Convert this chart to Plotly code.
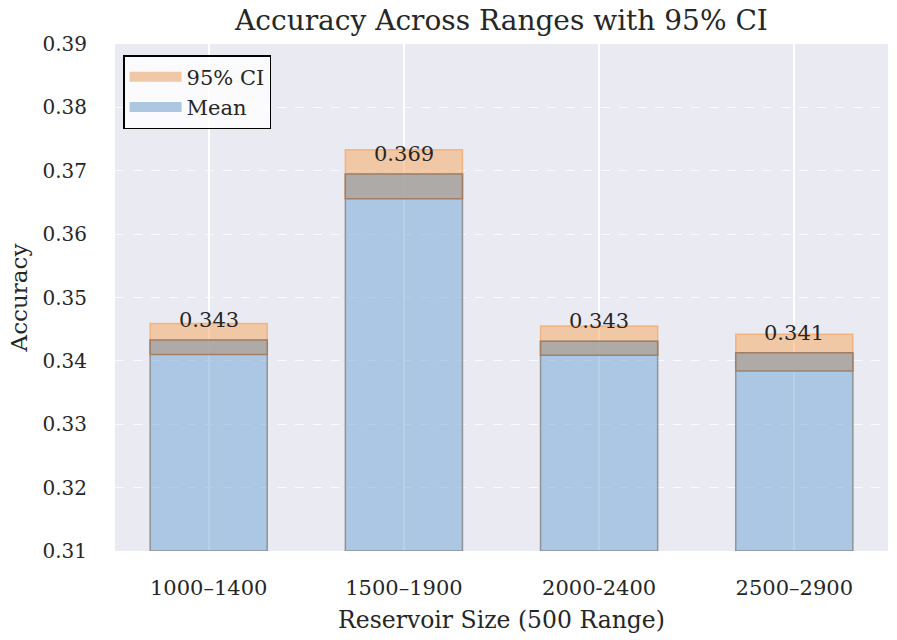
import plotly.graph_objects as go

categories = ["1000–1400", "1500–1900", "2000-2400", "2500–2900"]
means = [0.3433, 0.3695, 0.3431, 0.3413]
ci_low = [0.3410, 0.3656, 0.3409, 0.3384]
ci_high = [0.3459, 0.3733, 0.3455, 0.3442]
base_val = 0.31
labels = [f"{m:.3f}" for m in means]
yticks = [0.31, 0.32, 0.33, 0.34, 0.35, 0.36, 0.37, 0.38, 0.39]

xs = list(range(len(categories)))
FONT = "DejaVu Serif"
TXT = "#262626"

fig = go.Figure()
fig.add_trace(go.Bar(
    x=xs, y=[m - base_val for m in means], base=base_val, width=0.6,
    marker=dict(color="rgba(120,170,215,0.55)", line=dict(color="rgba(130,130,130,0.8)", width=1.5)),
    showlegend=False, hoverinfo="skip"))
fig.add_trace(go.Bar(
    x=xs, y=[h - l for h, l in zip(ci_high, ci_low)], base=ci_low, width=0.6,
    marker=dict(color="rgba(245,172,104,0.55)", line=dict(color="rgba(245,165,100,0.7)", width=1.5)),
    showlegend=False, hoverinfo="skip"))
fig.add_trace(go.Bar(
    x=xs, y=[m - l for m, l in zip(means, ci_low)], base=ci_low, width=0.6,
    marker=dict(color="rgba(168,168,168,0.9)", line=dict(color="rgba(150,110,80,0.7)", width=1.5)),
    showlegend=False, hoverinfo="skip"))

# legend proxies
fig.add_trace(go.Scatter(x=[None], y=[None], mode="lines", name="95% CI",
                         line=dict(color="#F0C8A6", width=15)))
fig.add_trace(go.Scatter(x=[None], y=[None], mode="lines", name="Mean",
                         line=dict(color="#ADC7E1", width=15)))

for x, m, t in zip(xs, means, labels):
    fig.add_annotation(x=x, y=m, text=t, showarrow=False, yanchor="bottom",
                       yshift=6, font=dict(family=FONT, size=21, color=TXT))

fig.update_layout(
    width=897, height=640,
    barmode="overlay",
    paper_bgcolor="white", plot_bgcolor="#EAEAF2",
    margin=dict(l=115, r=9, t=44, b=89),
    font=dict(family=FONT, color=TXT),
    title=dict(text="Accuracy Across Ranges with 95% CI", x=0.5, xref="paper",
               y=1 - 20 / 640, yanchor="middle", xanchor="center",
               font=dict(family=FONT, size=28, color=TXT)),
    legend=dict(x=0.0105, y=0.978, xanchor="left", yanchor="top",
                bgcolor="rgba(255,255,255,0.8)", bordercolor="black", borderwidth=1.5,
                font=dict(family=FONT, size=21, color=TXT), itemwidth=52,
                tracegroupgap=0),
    showlegend=True,
)
fig.update_xaxes(range=[-0.48, 3.48], tickvals=xs, ticktext=categories,
                 showgrid=True, gridcolor="white", gridwidth=1.5, zeroline=False,
                 tickfont=dict(family=FONT, size=21, color=TXT), ticks="",
                 ticklabelstandoff=22,
                 title=dict(text="Reservoir Size (500 Range)", standoff=12,
                            font=dict(family=FONT, size=23.5, color=TXT)))
fig.update_yaxes(range=[0.31, 0.39], tickvals=yticks, ticktext=[f"{v:.2f}" for v in yticks],
                 showgrid=True, gridcolor="rgba(255,255,255,0.8)", gridwidth=1, griddash="dash",
                 zeroline=False, tickfont=dict(family=FONT, size=20, color=TXT), ticks="",
                 ticklabelstandoff=27,
                 title=dict(text="Accuracy", standoff=8,
                            font=dict(family=FONT, size=23, color=TXT)))

fig.write_html("out.html", config={"displayModeBar": False},
               post_script="document.body.style.margin='0px';")
